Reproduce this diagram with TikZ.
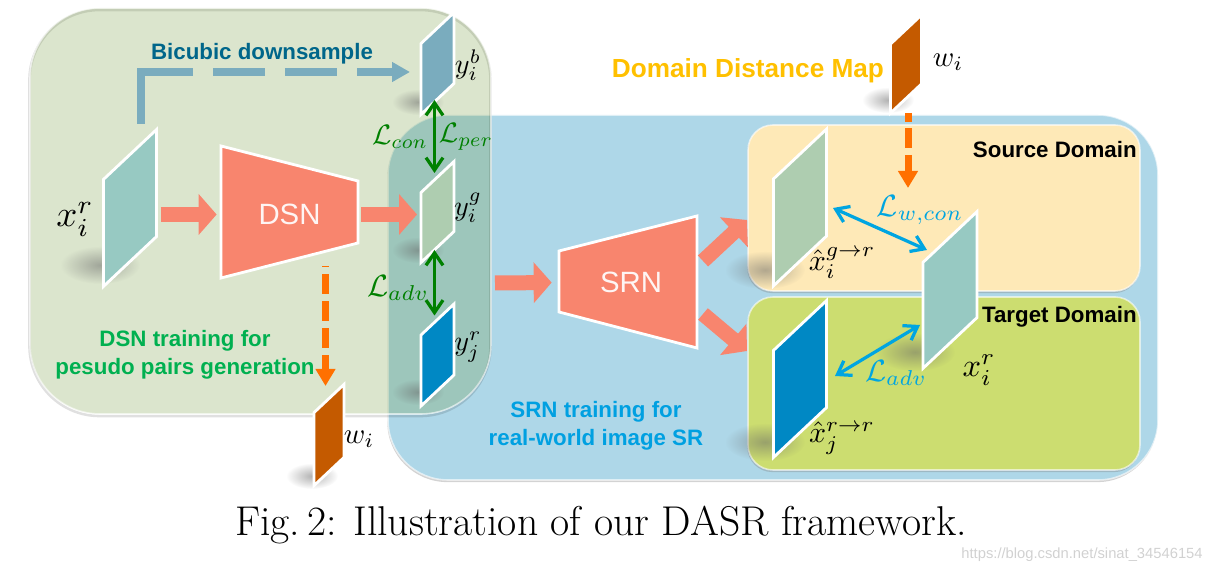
\documentclass[tikz,border=0pt]{standalone}
\usepackage{fontspec}
\setsansfont{Liberation Sans}
\usetikzlibrary{arrows.meta,shadows,fadings}
\definecolor{dsnbox}{RGB}{105,147,47}
\definecolor{srnbox}{RGB}{174,215,232}
\definecolor{srcbox}{RGB}{254,233,183}
\definecolor{tgtbox}{RGB}{204,221,112}
\definecolor{salmon}{RGB}{248,133,110}
\definecolor{bicubic}{RGB}{122,172,190}
\definecolor{bicubictext}{RGB}{0,102,138}
\definecolor{lrteal}{RGB}{151,201,194}
\definecolor{fakegreen}{RGB}{174,205,176}
\definecolor{realblue}{RGB}{0,136,196}
\definecolor{mapbrown}{RGB}{196,90,0}
\definecolor{dashorange}{RGB}{255,112,0}
\definecolor{lossgreen}{RGB}{0,128,0}
\definecolor{lossblue}{RGB}{0,165,225}
\definecolor{mapyellow}{RGB}{255,192,0}
\definecolor{dsntext}{RGB}{0,176,80}
\definecolor{srntext}{RGB}{0,160,225}
\newcommand{\px}{0.02cm}
\tikzfading[name=softedge,inner color=transparent!50,outer color=transparent!100]
\newcommand{\softshade}[4]{\fill[black!60,path fading=softedge] (#1,#2) ellipse [x radius=#3,y radius=#4];}
\begin{document}
\begin{tikzpicture}[x=\px,y=-\px]
    \tikzset{
        domainbox/.style={rounded corners=#1*\px,inner sep=0pt,draw=white,draw opacity=.6,line width=.9pt,drop shadow={opacity=.35,shadow xshift=-.4pt,shadow yshift=-1.2pt}},
        panel/.style 2 args={draw=white,line width=1.6pt,inner sep=0pt,outer sep=0pt,minimum width=#1*\px,minimum height=#2*\px,yslant=.94},
        netblock/.style={draw=white,line width=1.6pt,fill=salmon,line join=miter},
        netlabel/.style={font=\sffamily\fontsize{16.7}{20}\selectfont,text=white!92!salmon,inner sep=0pt,minimum width=137*\px,minimum height=132*\px},
        fatflow/.style={-{Triangle[length=.36cm,width=.8cm]},line width=.3cm,color=salmon},
        bicubicflow/.style={-{Triangle[length=.36cm,width=.38cm]},line width=.15cm,color=bicubic,dash pattern=on 2.08cm off .4cm on 1.04cm off .4cm on 1.04cm off .4cm on 3cm},
        mapflow/.style={-{Triangle[length=.34cm,width=.38cm]},line width=.14cm,color=dashorange},
        greenloss/.style={{Straight Barb[length=.25cm,width=.34cm]}-{Straight Barb[length=.25cm,width=.34cm]},line width=.065cm,color=lossgreen},
        blueloss/.style={{Straight Barb[length=.25cm,width=.34cm]}-{Straight Barb[length=.25cm,width=.34cm]},line width=.065cm,color=lossblue},
        boldtext/.style={font=\sffamily\bfseries\fontsize{12.7}{15.9}\selectfont,align=center,inner sep=0pt},
        mathtext/.style={inner sep=0pt}
    }
    \useasboundingbox (0,0) rectangle (1211,573);

    \node[domainbox=60,fill=srnbox,minimum width=770*\px,minimum height=365*\px] (srnpart) at (773,297.5) {};
    \node[rounded corners=70*\px,inner sep=0pt,draw=black,draw opacity=.12,line width=1.5pt,minimum width=461*\px,minimum height=406*\px] (dsnrim) at (260,213) {};
    \node[rounded corners=70*\px,inner sep=0pt,fill=dsnbox,fill opacity=.24,draw=white,draw opacity=.6,line width=.9pt,minimum width=461*\px,minimum height=406*\px] (dsnpart) at (260.5,211) {};
    \node[domainbox=25,fill=srcbox,minimum width=392*\px,minimum height=166*\px] (source) at (944,208) {};
    \node[domainbox=25,fill=tgtbox,minimum width=392*\px,minimum height=173*\px] (target) at (944,383.5) {};

    \softshade{100}{265}{40}{19}
    \softshade{418}{102}{26}{13}
    \softshade{418}{250}{26}{13}
    \softshade{418}{392}{26}{13}
    \softshade{312}{476}{26}{13}
    \softshade{888}{100}{26}{13}
    \softshade{765}{270}{40}{19}
    \softshade{765}{442}{40}{19}
    \softshade{915}{352}{40}{19}

    \node[panel={53}{107},fill=lrteal] (xr) at (130,208) {};
    \node[panel={33}{71},fill=bicubic] (yb) at (437.5,63.5) {};
    \node[panel={33}{70},fill=fakegreen] (yg) at (437.5,212) {};
    \node[panel={33}{71},fill=realblue] (yr) at (437.5,355) {};
    \node[panel={30}{73},fill=mapbrown] (wlow) at (329,435) {};
    \node[panel={31}{69},fill=mapbrown] (wtop) at (906,64) {};
    \node[panel={53}{107},fill=fakegreen] (xgr) at (800,207.5) {};
    \node[panel={53}{107},fill=realblue] (xrr) at (800,379) {};
    \node[panel={54}{106},fill=lrteal] (xt) at (950,290) {};

    \draw[netblock] (221,146) -- (358,181) -- (358,243) -- (221,278) -- cycle;
    \draw[netblock] (559,251) -- (697,216) -- (697,348) -- (559,312) -- cycle;
    \node[netlabel] (dsn) at (289.5,214.5) {DSN};
    \node[netlabel,minimum width=144*\px] (srn) at (631,282.5) {SRN};

    \coordinate (dsnedge) at (495,283);
    \coordinate (srnup) at (703,261);
    \coordinate (srcin) at (747,220);
    \coordinate (srndown) at (703,314);
    \coordinate (tgtin) at (747,351);
    \draw[fatflow,shorten <=4*\px,shorten >=4*\px] (xr.east |- dsn.west) -- (dsn.west);
    \draw[fatflow,shorten <=3*\px,shorten >=4*\px] (dsn.east) -- (yg.west |- dsn.east);
    \draw[fatflow,shorten >=7*\px] (dsnedge) -- (srn.west);
    \draw[fatflow] (srnup) -- (srcin);
    \draw[fatflow] (srndown) -- (tgtin);

    \coordinate (bicubicout) at (141,124);
    \coordinate (bicubicin) at (410,72);
    \draw[bicubicflow] (bicubicout) |- (bicubicin);

    \coordinate (mapoutlow) at (325.5,266);
    \coordinate (mapinlow) at (325.5,386);
    \coordinate (mapouttop) at (908,113);
    \coordinate (mapintop) at (908,188);
    \draw[mapflow,dash pattern=on .03cm off .14cm on .4cm off .14cm on .4cm off .14cm on .4cm off .14cm on 2cm] (mapoutlow) -- (mapinlow);
    \draw[mapflow,dash pattern=on .18cm off .12cm on .4cm off .14cm on 2cm] (mapouttop) -- (mapintop);

    \draw[greenloss,shorten <=1*\px,shorten >=4*\px] ([xshift=-3*\px]yb.south) -- ([xshift=-3*\px]yg.north);
    \draw[greenloss,shorten <=3*\px,shorten >=4*\px] ([xshift=-3*\px]yg.south) -- ([xshift=-3*\px]yr.north);

    \coordinate (conleft) at (833,208);
    \coordinate (conright) at (927,250);
    \coordinate (advleft) at (835,376);
    \coordinate (advright) at (920,325);
    \draw[blueloss] (conleft) -- (conright);
    \draw[blueloss] (advleft) -- (advright);

    \node[boldtext,text=bicubictext] (bicubiclabel) at (262,54) {Bicubic downsample};
    \node[boldtext,text=mapyellow,font=\sffamily\bfseries\fontsize{14.9}{17}\selectfont] (maplabel) at (748,71) {Domain Distance Map};
    \node[boldtext,text=dsntext] (dsnlabel) at (185,355) {DSN training for\\pesudo pairs generation};
    \node[boldtext,text=srntext] (srnlabel) at (596,426) {SRN training for\\real-world image SR};
    \node[boldtext,anchor=east] (srclabel) at (1137,150) {Source Domain};
    \node[boldtext,anchor=east] (tgtlabel) at (1137,317) {Target Domain};

    \node[mathtext,scale=2.1] (xrlabel) at (75,219) {$x_i^r$};
    \node[mathtext,scale=1.6] (yblabel) at (468,65) {$y_i^b$};
    \node[mathtext,scale=1.6] (yglabel) at (468,208) {$y_i^g$};
    \node[mathtext,scale=1.6] (yrlabel) at (468,347) {$y_j^r$};
    \node[mathtext,scale=1.65] (wlowlabel) at (359,439) {$w_i$};
    \node[mathtext,scale=1.65] (wtoplabel) at (948,62) {$w_i$};
    \node[mathtext,scale=1.6,text=lossgreen] (conlabel) at (400,137) {$\mathcal{L}_{con}$};
    \node[mathtext,scale=1.6,text=lossgreen] (perlabel) at (466,137) {$\mathcal{L}_{per}$};
    \node[mathtext,scale=1.75,text=lossgreen] (advlabel) at (398,288) {$\mathcal{L}_{adv}$};
    \node[mathtext,scale=1.75,text=lossblue] (wconlabel) at (920,210) {$\mathcal{L}_{w,con}$};
    \node[mathtext,scale=1.75,text=lossblue] (advblue) at (896,373) {$\mathcal{L}_{adv}$};
    \node[mathtext,scale=1.7] (xgrlabel) at (842,263) {$\hat{x}_i^{g\rightarrow r}$};
    \node[mathtext,scale=1.7] (xrrlabel) at (842,438) {$\hat{x}_j^{r\rightarrow r}$};
    \node[mathtext,scale=1.85] (xtlabel) at (979,370) {$x_i^r$};

    \node[font=\fontsize{23.7}{28}\selectfont,inner sep=0pt] (caption) at (601,525) {Fig.\,2: Illustration of our DASR framework.};
    \node[font=\sffamily\fontsize{8.4}{10}\selectfont,text=black!18,inner sep=0pt,anchor=east] (mark) at (1203,555) {https://blog.csdn.net/sinat\_34546154};
\end{tikzpicture}
\end{document}
